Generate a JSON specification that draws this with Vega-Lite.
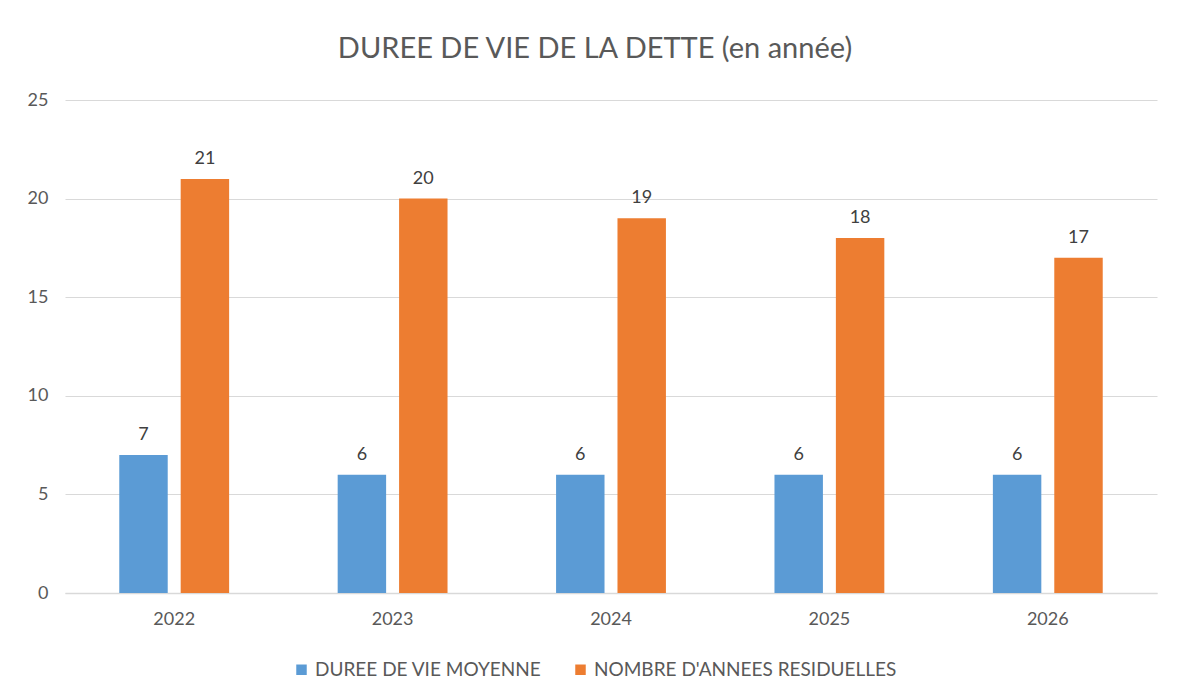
{
  "$schema": "https://vega.github.io/schema/vega-lite/v6.json",
  "autosize": {"type": "none"},
  "padding": {"left": 65, "top": 100, "right": 21, "bottom": 105},
  "width": 1092,
  "height": 493,
  "background": "white",
  "config": {"view": {"stroke": null}},
  "title": {
    "text": "DUREE DE VIE DE LA DETTE (en année)",
    "font": "Lato",
    "fontSize": 29,
    "fontWeight": "normal",
    "color": "#595959",
    "anchor": "middle",
    "dx": -16,
    "offset": 27
  },
  "data": {
    "values": [
      {"annee": "2022", "serie": "DUREE DE VIE MOYENNE", "valeur": 7},
      {"annee": "2022", "serie": "NOMBRE D'ANNEES RESIDUELLES", "valeur": 21},
      {"annee": "2023", "serie": "DUREE DE VIE MOYENNE", "valeur": 6},
      {"annee": "2023", "serie": "NOMBRE D'ANNEES RESIDUELLES", "valeur": 20},
      {"annee": "2024", "serie": "DUREE DE VIE MOYENNE", "valeur": 6},
      {"annee": "2024", "serie": "NOMBRE D'ANNEES RESIDUELLES", "valeur": 19},
      {"annee": "2025", "serie": "DUREE DE VIE MOYENNE", "valeur": 6},
      {"annee": "2025", "serie": "NOMBRE D'ANNEES RESIDUELLES", "valeur": 18},
      {"annee": "2026", "serie": "DUREE DE VIE MOYENNE", "valeur": 6},
      {"annee": "2026", "serie": "NOMBRE D'ANNEES RESIDUELLES", "valeur": 17}
    ]
  },
  "encoding": {
    "x": {
      "field": "annee",
      "type": "nominal",
      "scale": {"paddingInner": 0.497, "paddingOuter": 0.2485},
      "axis": {
        "title": null,
        "labelAngle": 0,
        "labelFont": "Lato",
        "labelFontSize": 18,
        "labelColor": "#595959",
        "labelPadding": 17,
        "domainColor": "#d9d9d9",
        "domainWidth": 1.5,
        "ticks": false,
        "grid": false
      }
    },
    "xOffset": {
      "field": "serie",
      "type": "nominal",
      "scale": {"paddingInner": 0.211, "paddingOuter": 0}
    },
    "y": {
      "field": "valeur",
      "type": "quantitative",
      "scale": {"domain": [0, 25], "nice": false},
      "axis": {
        "title": null,
        "values": [0, 5, 10, 15, 20, 25],
        "labelFont": "Lato",
        "labelFontSize": 18,
        "labelColor": "#595959",
        "labelPadding": 17,
        "domain": false,
        "ticks": false,
        "gridColor": "#d9d9d9",
        "gridWidth": 1
      }
    }
  },
  "layer": [
    {
      "mark": {"type": "bar"},
      "encoding": {
        "color": {
          "field": "serie",
          "type": "nominal",
          "scale": {
            "domain": ["DUREE DE VIE MOYENNE", "NOMBRE D'ANNEES RESIDUELLES"],
            "range": ["#5B9BD5", "#ED7D31"]
          },
          "legend": {
            "title": null,
            "orient": "none",
            "legendX": 227,
            "legendY": 560,
            "direction": "horizontal",
            "symbolType": "square",
            "symbolSize": 110,
            "symbolStrokeWidth": 0,
            "labelFont": "Lato",
            "labelFontSize": 19,
            "labelColor": "#595959",
            "labelLimit": 400,
            "columnPadding": 29
          }
        }
      }
    },
    {
      "mark": {
        "type": "text",
        "dy": -20,
        "font": "Lato",
        "fontSize": 18,
        "color": "#404040"
      },
      "encoding": {
        "text": {"field": "valeur", "type": "quantitative"}
      }
    }
  ]
}
